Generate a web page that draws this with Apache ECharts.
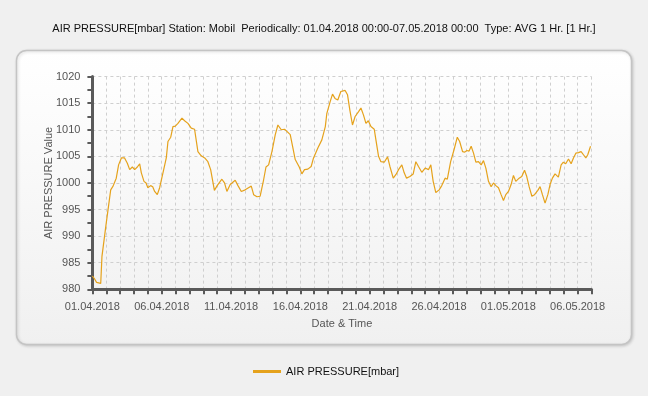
<!DOCTYPE html>
<html>
<head>
<meta charset="utf-8">
<script src="https://cdn.jsdelivr.net/npm/echarts@6/dist/echarts.min.js"></script>
<style>
html,body{margin:0;padding:0;background:#f0f0f0;}
#chart{width:648px;height:396px;}
</style>
</head>
<body>
<div id="chart"></div>
<script>
// Day offsets from 01.04.2018 00:00
const dayOffsets = [
0,0.17,0.3,0.6,0.69,1.0,1.32,1.49,1.72,1.89,2.09,2.32,2.52,2.69,2.88,3.05,3.24,3.41,3.53,3.72,3.87,4.0,4.2,4.35,4.49,4.68,4.85,
5.09,5.33,5.45,5.65,5.81,5.98,6.17,6.46,6.65,6.89,7.13,7.37,7.61,7.85,8.1,8.33,8.53,8.8,9.0,9.1,9.34,9.53,9.7,9.94,
10.3,10.5,10.74,11.02,11.26,11.46,11.63,11.87,12.1,12.35,12.52,12.71,12.95,13.19,13.38,13.62,13.86,14.03,14.27,14.44,14.63,14.92,
15.11,15.3,15.54,15.78,15.95,16.27,16.55,16.8,16.91,17.15,17.32,17.5,17.7,17.92,18.23,18.4,18.57,18.76,18.95,19.2,19.37,19.55,19.73,19.9,
20.09,20.33,20.45,20.64,20.81,21.05,21.29,21.46,21.7,21.9,22.08,22.32,22.49,22.66,22.9,23.14,23.33,23.52,23.76,24.0,24.24,24.41,24.58,24.77,
25.01,25.2,25.44,25.6,25.84,26.08,26.32,26.49,26.7,26.86,27.01,27.17,27.32,27.49,27.66,27.85,28.04,28.21,28.38,28.57,28.76,28.93,29.1,29.29,29.48,29.65,29.82,
30.01,30.2,30.37,30.54,30.78,30.97,31.17,31.33,31.5,31.7,31.89,32.13,32.29,32.46,32.65,32.85,33.01,33.18,33.37,33.61,33.81,33.97,34.14,34.34,34.53,34.7,34.87,
35.06,35.25,35.42,35.59,35.73,35.93
];
const pressure = [
982.5,981.9,981.3,981.1,986.2,992.5,998.7,999.4,1000.9,1003.4,1004.7,1004.7,1003.7,1002.5,1003.0,1002.5,1003.0,1003.6,1001.9,1000.3,1000.0,999.1,999.5,999.3,998.4,997.8,999.1,
1001.9,1004.7,1007.8,1008.6,1010.6,1010.7,1011.2,1012.2,1011.7,1011.2,1010.3,1010.1,1005.9,1005.1,1004.7,1004.0,1002.5,998.6,999.5,999.4,1000.7,1000.0,998.4,999.7,
1000.5,999.5,998.4,998.7,999.1,999.4,997.8,997.4,997.5,1000.6,1003.0,1003.4,1005.9,1009.1,1010.9,1010.0,1010.1,1009.7,1009.1,1006.9,1004.4,1003.0,
1001.7,1002.5,1002.6,1003.1,1004.7,1006.6,1008.1,1010.6,1013.1,1015.3,1016.7,1015.9,1015.6,1017.2,1017.4,1016.6,1013.7,1010.9,1012.5,1013.4,1014.1,1012.8,1011.2,1011.7,
1010.6,1010.1,1008.1,1005.0,1004.0,1003.9,1004.9,1003.1,1000.9,1001.6,1002.5,1003.4,1001.9,1000.9,1001.2,1001.7,1004.0,1003.1,1002.0,1002.8,1002.5,1003.4,1000.3,998.2,
998.7,999.5,1000.9,1000.7,1004.0,1006.2,1008.6,1007.8,1005.9,1005.8,1006.1,1006.0,1006.9,1005.6,1003.9,1004.0,1003.4,1004.2,1002.8,1000.3,999.3,1000.0,999.5,999.1,997.8,996.7,997.8,
998.4,999.7,1001.4,1000.3,1000.9,1001.2,1002.4,1001.2,999.3,997.5,997.8,998.6,999.3,997.8,996.2,997.8,999.7,1000.9,1001.7,1001.1,1003.4,1003.9,1003.6,1004.5,1003.6,1004.7,1005.6,
1005.7,1005.9,1005.3,1004.7,1005.3,1006.9
];
const xTickLabels = ['01.04.2018','06.04.2018','11.04.2018','16.04.2018','21.04.2018','26.04.2018','01.05.2018','06.05.2018'];
const titleText = 'AIR PRESSURE[mbar] Station: Mobil  Periodically: 01.04.2018 00:00-07.05.2018 00:00  Type: AVG 1 Hr. [1 Hr.]';
const seriesName = 'AIR PRESSURE[mbar]';

const chart = echarts.init(document.getElementById('chart'), null, {renderer:'canvas'});
const FONT = 'Liberation Sans, Arial, sans-serif';
const data = dayOffsets.map((d,i)=>[d, pressure[i]]);

chart.setOption({
  backgroundColor:'#f0f0f0',
  animation:false,
  textStyle:{fontFamily:FONT},
  title:{
    text:titleText, left:'center', top:18,
    textStyle:{fontSize:11, fontWeight:'normal', color:'#111', fontFamily:FONT}
  },
  graphic:[{
    type:'rect', z:-10, silent:true,
    shape:{x:16.5, y:50.5, width:615, height:294, r:10},
    style:{
      fill:new echarts.graphic.LinearGradient(0,0,0,1,[{offset:0,color:'#ffffff'},{offset:1,color:'#f0f0f0'}]),
      stroke:'#c4c4c4', lineWidth:1.5,
      shadowBlur:3, shadowColor:'rgba(0,0,0,0.15)', shadowOffsetX:1, shadowOffsetY:1
    }
  }],
  legend:{
    left:248, top:361, itemWidth:28, itemHeight:3, icon:'rect', itemGap:6,
    textStyle:{fontSize:11, color:'#111', fontFamily:FONT},
    data:[seriesName]
  },
  grid:{left:92.4, right:56.5, top:76.6, bottom:106.7, containLabel:false},
  xAxis:{
    type:'value', min:0, max:36, interval:1,
    name:'Date & Time', nameLocation:'middle', nameGap:29,
    nameTextStyle:{fontSize:11, color:'#555', fontFamily:FONT},
    axisLine:{show:true, onZero:false, lineStyle:{color:'#5a5a5a', width:3}},
    axisTick:{show:true, length:5, lineStyle:{color:'#5a5a5a', width:2}},
    axisLabel:{
      fontSize:11, color:'#555', margin:12, fontFamily:FONT,
      formatter:function(v){ return (v % 5 === 0 && xTickLabels[v/5]) ? xTickLabels[v/5] : ''; }
    },
    splitLine:{show:true, lineStyle:{color:'#cfcfcf', type:[3,3], width:1}}
  },
  yAxis:{
    type:'value', min:980, max:1020, interval:5,
    name:'AIR PRESSURE Value', nameLocation:'middle', nameGap:38, nameRotate:90, nameMoveOverlap:false,
    nameTextStyle:{fontSize:11, color:'#555', fontFamily:FONT},
    axisLine:{show:true, lineStyle:{color:'#5a5a5a', width:3}},
    axisTick:{show:true, length:5, lineStyle:{color:'#5a5a5a', width:2}},
    minorTick:{show:true, splitNumber:2, length:5, lineStyle:{color:'#5a5a5a', width:2}},
    axisLabel:{fontSize:11, color:'#555', margin:12, fontFamily:FONT, formatter:function(v){ return String(v); }},
    splitLine:{show:true, lineStyle:{color:'#cfcfcf', type:[3,3], width:1}}
  },
  series:[{
    name:seriesName, type:'line', data:data, symbol:'none', showSymbol:false,
    lineStyle:{color:'#e5a21c', width:1.2}, itemStyle:{color:'#e5a21c'}
  }]
});
</script>
</body>
</html>
